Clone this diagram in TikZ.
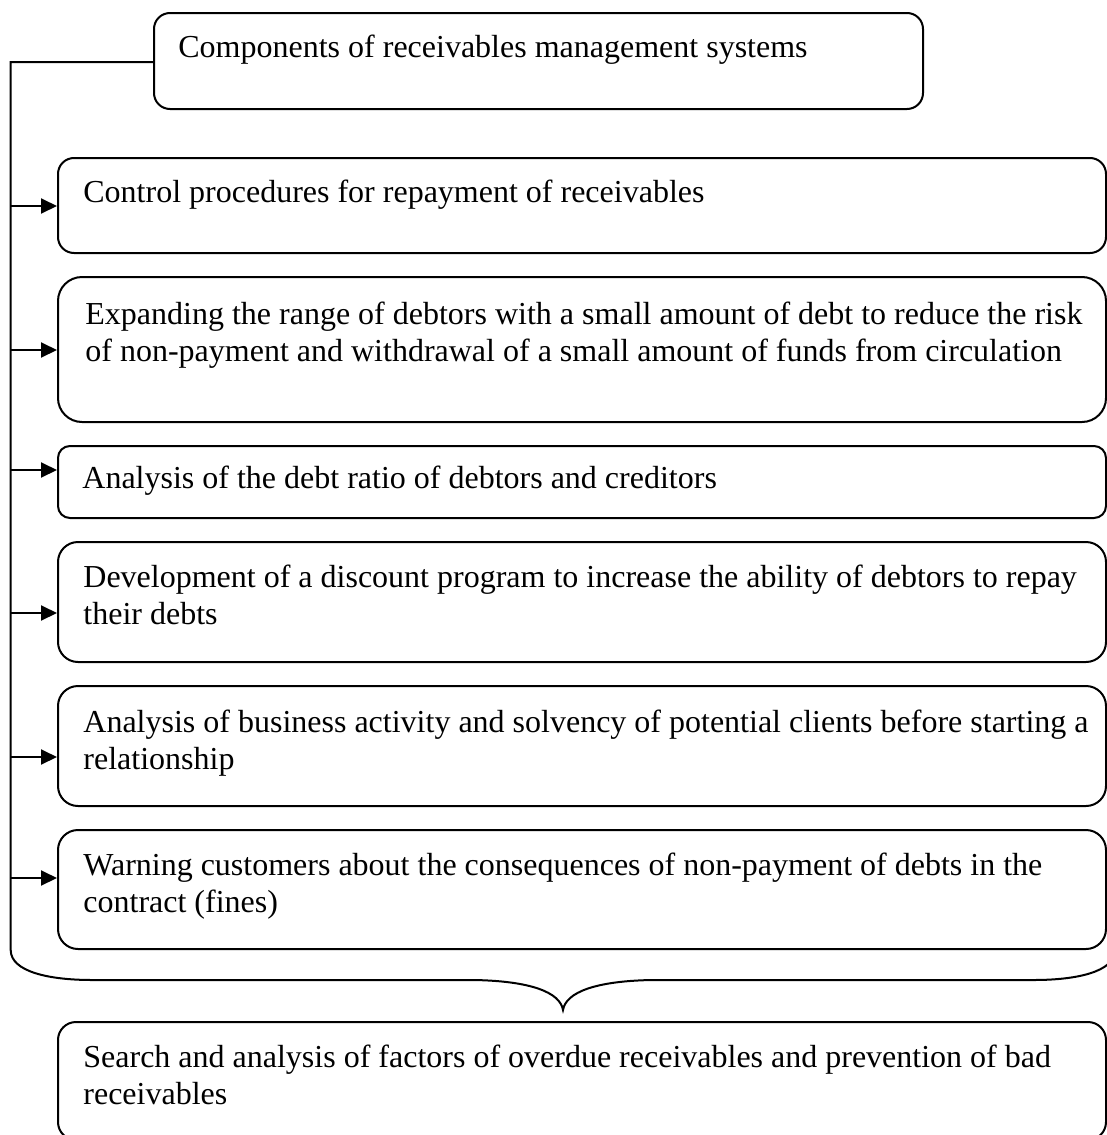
\documentclass[tikz,border=0pt]{standalone}
\usepackage{fontspec}
\setmainfont{Liberation Serif}
\usepackage{tikz}
\usetikzlibrary{arrows.meta,fit,positioning}

\tikzset{
  stem/.style={line width=1pt},
  arr/.style={line width=1pt, -{Triangle[length=8pt,width=7.5pt]}},
  card/.style={draw, line width=1pt, inner sep=0pt},
  itemtext/.style={anchor=base west, align=left, inner sep=0pt,
    font=\fontsize{16}{18.5}\selectfont}
}

\begin{document}
\begin{tikzpicture}[x=0.5pt,y=-0.5pt]
    % page
    \useasboundingbox (0,0) rectangle (1107,1135);
    \clip (0,0) rectangle (1107,1135);

    % boxes
    \node[card, rounded corners=8pt, fit={(154,13) (923,109)}] (head) {};
    \node[card, rounded corners=8pt, fit={(58,158) (1106,253)}] (b1) {};
    \node[card, rounded corners=12pt, fit={(58,277) (1106,422)}] (b2) {};
    \node[card, rounded corners=6pt, fit={(58,446) (1106,518)}] (b3) {};
    \node[card, rounded corners=10pt, fit={(58,542) (1106,662)}] (b4) {};
    \node[card, rounded corners=10pt, fit={(58,686) (1106,806)}] (b5) {};
    \node[card, rounded corners=10pt, fit={(58,830) (1106,949)}] (b6) {};
    \node[card, rounded corners=9pt, fit={(58,1022) (1106,1140)}] (res) {};

    % texts (base = last line)
    \node[itemtext] (thead) at (178,57) {Components of receivables management systems};
    \node[itemtext] (t1) at (83,202) {Control procedures for repayment of receivables};
    \node[itemtext] (t2) at (85,361) {Expanding the range of debtors with a small amount of debt to reduce the risk\\of non-payment and withdrawal of a small amount of funds from circulation};
    \node[itemtext] (t3) at (82,488) {Analysis of the debt ratio of debtors and creditors};
    \node[itemtext] (t4) at (83,624) {Development of a discount program to increase the ability of debtors to repay\\their debts};
    \node[itemtext] (t5) at (83,769) {Analysis of business activity and solvency of potential clients before starting a\\relationship};
    \node[itemtext] (t6) at (83,912) {Warning customers about the consequences of non-payment of debts in the\\contract (fines)};
    \node[itemtext] (tres) at (83,1104) {Search and analysis of factors of overdue receivables and prevention of bad\\receivables};

    % spine with brace at the bottom
    \coordinate (top) at (10.7,62);
    \draw[stem] (head.west |- top) -- (top) -- (10.7,950)
        .. controls (10.7,972) and (50,980) .. (92,980) -- (474,980)
        .. controls (530,981) and (560,992) .. (563,1010)
        .. controls (566,992) and (596,981) .. (652,980) -- (1034,980)
        .. controls (1076,980) and (1115,972) .. (1115,950);

    % arrows to the items
    \coordinate (s1) at (10.7,206);
    \coordinate (s2) at (10.7,350);
    \coordinate (s3) at (10.7,470);
    \coordinate (s4) at (10.7,613);
    \coordinate (s5) at (10.7,757);
    \coordinate (s6) at (10.7,878);
    \draw[arr] (s1) -- (s1 -| b1.west);
    \draw[arr] (s2) -- (s2 -| b2.west);
    \draw[arr] (s3) -- (s3 -| b3.west);
    \draw[arr] (s4) -- (s4 -| b4.west);
    \draw[arr] (s5) -- (s5 -| b5.west);
    \draw[arr] (s6) -- (s6 -| b6.west);
\end{tikzpicture}
\end{document}
